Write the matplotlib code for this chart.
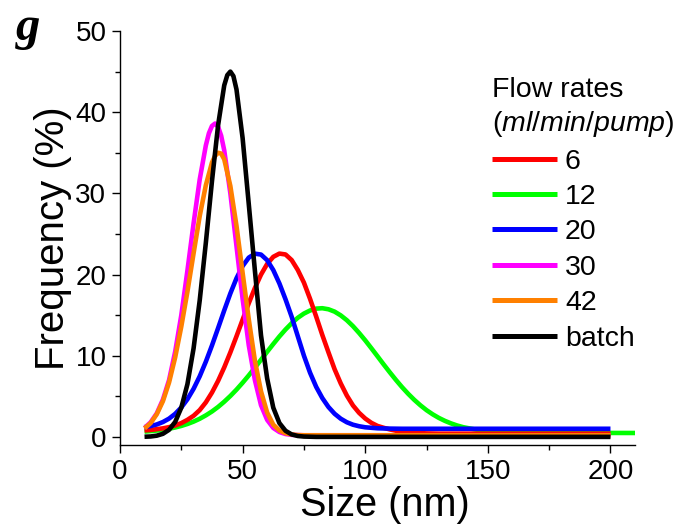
import matplotlib
matplotlib.use("Agg")
import matplotlib.pyplot as plt
from matplotlib.ticker import MultipleLocator

plt.rcParams['font.family'] = ['Liberation Sans', 'DejaVu Sans']
plt.rcParams['mathtext.fontset'] = 'custom'
plt.rcParams['mathtext.it'] = 'Liberation Sans:italic'
plt.rcParams['mathtext.rm'] = 'Liberation Sans'

# ---- data ----
x_red = [10, 12.5, 15, 17.5, 20, 22.5, 25, 27.5, 30, 32.5, 35, 37.5, 40, 42.5, 45, 47.5, 50, 52.5, 55, 57.5,
         60, 62.5, 65, 67.5, 70, 72.5, 75, 77.5, 80, 82.5, 85, 87.5, 90, 92.5, 95, 97.5, 100, 102.5, 105,
         107.5, 110, 112.5, 115, 120, 125, 130, 150, 200]
y_red = [0.8, 0.85, 0.95, 1.05, 1.2, 1.4, 1.7, 2.1, 2.6, 3.3, 4.25, 5.46, 6.9, 8.56, 10.41, 12.39, 14.44, 16.46,
         18.34, 19.99, 21.3, 22.18, 22.58, 22.47, 21.78, 20.56, 19.0, 17.0, 14.82, 12.55, 10.42, 8.34, 6.59,
         5.09, 3.87, 2.96, 2.26, 1.73, 1.35, 1.12, 0.92, 0.76, 0.64, 0.5, 0.43, 0.4, 0.4, 0.4]

x_green = [10, 12.5, 15, 17.5, 20, 22.5, 25, 27.5, 30, 32.5, 35, 37.5, 40, 42.5, 45, 47.5, 50, 52.5, 55, 57.5,
           60, 62.5, 65, 67.5, 70, 72.5, 75, 77.5, 80, 82.5, 85, 87.5, 90, 92.5, 95, 97.5, 100, 102.5, 105,
           107.5, 110, 112.5, 115, 117.5, 120, 122.5, 125, 127.5, 130, 132.5, 135, 137.5, 140, 145, 150,
           155, 160, 170, 210]
y_green = [0.65, 0.71, 0.78, 0.88, 1.0, 1.16, 1.35, 1.59, 1.88, 2.23, 2.65, 3.13, 3.69, 4.33, 5.04, 5.82, 6.67,
           7.57, 8.52, 9.5, 10.48, 11.44, 12.37, 13.23, 14.0, 14.67, 15.19, 15.57, 15.8, 15.85, 15.72, 15.43,
           14.97, 14.37, 13.64, 12.8, 11.89, 10.92, 9.93, 8.93, 7.96, 7.02, 6.13, 5.31, 4.56, 3.89, 3.29,
           2.78, 2.34, 1.97, 1.66, 1.4, 1.19, 0.9, 0.72, 0.6, 0.55, 0.5, 0.48]

x_blue = [10, 12.5, 15, 17.5, 20, 22.5, 25, 27.5, 30, 32.5, 35, 37.5, 40, 42.5, 45, 47.5, 50, 52.5, 55, 57.5,
          60, 62.5, 65, 67.5, 70, 72.5, 75, 77.5, 80, 82.5, 85, 87.5, 90, 92.5, 95, 97.5, 100, 105, 110, 115,
          150, 200]
y_blue = [1.2, 1.33, 1.53, 1.83, 2.25, 2.84, 3.62, 4.64, 5.92, 7.46, 9.26, 11.26, 13.4, 15.58, 17.67, 19.54,
          21.04, 22.08, 22.57, 22.46, 21.77, 20.55, 18.9, 16.94, 14.8, 12.4, 10.0, 7.9, 6.16, 4.78, 3.68,
          2.85, 2.24, 1.8, 1.5, 1.31, 1.18, 1.06, 1.02, 1.0, 1.0, 1.0]

x_mag = [10, 12.5, 15, 17.5, 20, 22.5, 25, 27.5, 30, 32.5, 35, 36.25, 37.5, 38.75, 40, 41.25, 42.5, 45, 47.5,
         50, 52.5, 55, 57.5, 60, 62.5, 65, 67.5, 70, 75, 100, 150, 200]
y_mag = [1.1, 1.8, 2.9, 4.6, 7.0, 10.5, 15.0, 20.5, 26.3, 31.7, 35.9, 37.4, 38.3, 38.6, 38.2, 37.1, 35.3, 30.0,
         23.5, 17.0, 11.3, 7.0, 3.9, 2.1, 1.1, 0.6, 0.35, 0.25, 0.2, 0.2, 0.2, 0.2]

x_orange = [10, 12.5, 15, 17.5, 20, 22.5, 25, 27.5, 30, 32.5, 35, 37.5, 38.75, 40, 41.25, 42.5, 45, 47.5, 50,
            52.5, 55, 57.5, 60, 62.5, 65, 67.5, 70, 72.5, 75, 100, 150, 200]
y_orange = [1.05, 1.7, 2.8, 4.4, 6.7, 9.8, 13.6, 17.9, 22.6, 27.2, 31.0, 33.8, 34.6, 35.0, 34.9, 34.2, 30.9,
            26.0, 20.2, 14.5, 9.4, 5.6, 3.0, 1.5, 0.8, 0.45, 0.3, 0.22, 0.2, 0.2, 0.2, 0.2]

x_black = [10, 12.5, 15, 17.5, 20, 22.5, 25, 27.5, 30, 32.5, 35, 37.5, 40, 42.5, 43.75, 45, 46.25, 47.5, 50,
           52.5, 55, 57.5, 60, 62.5, 65, 67.5, 70, 72.5, 75, 80, 100, 150, 200]
y_black = [0.02, 0.05, 0.15, 0.38, 0.87, 1.84, 3.6, 6.5, 10.9, 16.8, 23.9, 31.5, 38.4, 43.3, 44.56, 45.0, 44.44,
           42.8, 36.8, 28.7, 20.5, 12.5, 7.2, 3.6, 1.7, 0.75, 0.3, 0.11, 0.04, 0.0, 0.0, 0.0, 0.0]

labels = ['6', '12', '20', '30', '42', 'batch']
colors = ['#FF0000', '#00FF00', '#0000FF', '#FF00FF', '#FF8000', '#000000']
series = [(x_red, y_red), (x_green, y_green), (x_blue, y_blue), (x_mag, y_mag), (x_orange, y_orange),
          (x_black, y_black)]
draw_order = [1, 0, 2, 3, 4, 5]

x_ticks = [0, 50, 100, 150, 200]
y_ticks = [0, 10, 20, 30, 40, 50]

# ---- figure ----
fig = plt.figure(figsize=(6.81, 5.32), dpi=100)
ax = fig.add_axes([120 / 681, 87 / 532, 515 / 681, 414 / 532])

handles = [None] * len(series)
for i in draw_order:
    xs, ys = series[i]
    h, = ax.plot(xs, ys, color=colors[i], lw=3.3, solid_joinstyle='round', solid_capstyle='butt',
                 label=labels[i])
    handles[i] = h

ax.set_xlim(0, 210)
ax.set_ylim(-1, 50)
ax.set_xticks(x_ticks)
ax.set_yticks(y_ticks)
ax.xaxis.set_minor_locator(MultipleLocator(25))
ax.yaxis.set_minor_locator(MultipleLocator(5))
for s in ['top', 'right']:
    ax.spines[s].set_visible(False)
for s in ['left', 'bottom']:
    ax.spines[s].set_linewidth(1.0)
ax.tick_params(which='major', direction='out', length=5.8, width=1.0, labelsize=20, pad=4)
ax.tick_params(which='minor', direction='out', length=3.5, width=1.0)

ax.set_xlabel('Size (nm)', fontsize=28.5)
ax.xaxis.set_label_coords((385 - 120) / 515, -0.1)
ax.set_ylabel('Frequency (%)', fontsize=29)
ax.yaxis.set_label_coords(-0.093, 0.5)

leg = ax.legend(handles=handles, labels=labels, loc='upper left',
                bbox_to_anchor=(492 / 681, 1 - 77 / 532), bbox_transform=fig.transFigure,
                frameon=False, fontsize=20.5, title='Flow rates\n($\\mathit{ml/min/pump}$)',
                title_fontsize=20.5, alignment='left', handlelength=2.28, handletextpad=0.28,
                labelspacing=0.33, borderpad=0, borderaxespad=0)
leg.get_title().set_linespacing(1.28)
for lh in leg.get_lines():
    lh.set_linewidth(3.6)

fig.text(16 / 681, 1 - 6 / 532, 'g', fontsize=35, fontweight='bold', fontstyle='italic',
         family='Liberation Serif', ha='left', va='top')

fig.savefig('out.png', dpi=100)
